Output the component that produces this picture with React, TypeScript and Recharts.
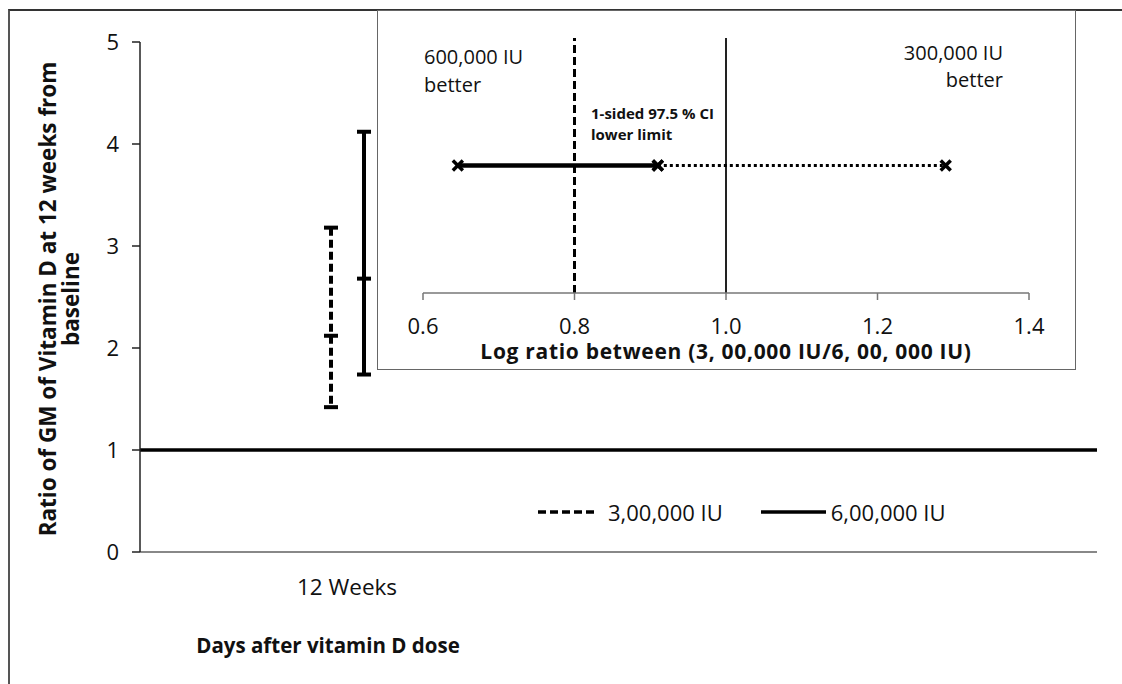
import React from "react"
import {
  ComposedChart,
  Bar,
  XAxis,
  YAxis,
  ReferenceLine,
  Legend,
  Label,
  ScatterChart,
  Scatter,
} from "recharts"

const FONT = "'Open Sans', Lato, sans-serif"
const INK = "#111"

// main chart: ratio of GM of vitamin D at 12 weeks from baseline
const PERIODS = ["12 Weeks"]
const MEAN_300K = [2.12]
const LOW_300K = [1.42]
const HIGH_300K = [3.18]
const MEAN_600K = [2.68]
const LOW_600K = [1.74]
const HIGH_600K = [4.12]
const Y_TICKS = [0, 1, 2, 3, 4, 5]
const BASELINE_RATIO = 1

// inset: log ratio (300,000 IU / 600,000 IU) with 1-sided 97.5% CI
const INSET_TICKS = [0.6, 0.8, 1.0, 1.2, 1.4]
const CI_LOW = 0.646
const CI_MID = 0.91
const CI_HIGH = 1.29
const CI_LEVEL = 0.5
const MARGIN_LINE = 0.8
const NO_DIFF_LINE = 1.0

const mainData = PERIODS.map((period, i) => ({
  period,
  m300: MEAN_300K[i],
  lo300: LOW_300K[i],
  hi300: HIGH_300K[i],
  m600: MEAN_600K[i],
  lo600: LOW_600K[i],
  hi600: HIGH_600K[i],
}))

const solidCi = [
  { x: CI_LOW, y: CI_LEVEL },
  { x: CI_MID, y: CI_LEVEL },
]
const dottedCi = [
  { x: CI_MID, y: CI_LEVEL },
  { x: CI_HIGH, y: CI_LEVEL },
]

// bar shape draws a whisker (low-mean-high) using the bar's own scale
const whisker = (meanKey: string, lowKey: string, highKey: string, dashed: boolean) =>
  (props: any) => {
    const { x, y, width, height, payload } = props
    const mean = payload[meanKey]
    const base = y + height
    const k = height / mean
    const yLo = base - payload[lowKey] * k
    const yHi = base - payload[highKey] * k
    const cx = x + width / 2
    return (
      <g>
        <line x1={cx} x2={cx} y1={yHi} y2={yLo} stroke="#000" strokeWidth={4}
          strokeDasharray={dashed ? "8 4" : undefined} />
        <line x1={cx - 7} x2={cx + 7} y1={yHi} y2={yHi} stroke="#000" strokeWidth={4} />
        <line x1={cx - 7} x2={cx + 7} y1={yLo} y2={yLo} stroke="#000" strokeWidth={4} />
        <line x1={cx - 7} x2={cx + 7} y1={y} y2={y} stroke="#000" strokeWidth={4} />
      </g>
    )
  }

const XMark = (props: any) => {
  const { cx, cy } = props
  const r = 5
  return (
    <g stroke="#000" strokeWidth={3.5}>
      <line x1={cx - r} y1={cy - r} x2={cx + r} y2={cy + r} />
      <line x1={cx - r} y1={cy + r} x2={cx + r} y2={cy - r} />
    </g>
  )
}

const renderLegend = (props: any) => (
  <div style={{ display: "flex", alignItems: "center", fontFamily: FONT, fontSize: 22, color: INK }}>
    {(props.payload || []).map((e: any) => {
      const dashed = e.dataKey === "m300"
      return (
        <div key={e.value} style={{ display: "flex", alignItems: "center", marginRight: 38 }}>
          <svg width={dashed ? 56 : 65} height={6}>
            <line x1={0} x2={dashed ? 56 : 65} y1={3} y2={3} stroke="#000" strokeWidth={3.5}
              strokeDasharray={dashed ? "8 4" : undefined} />
          </svg>
          <span style={{ marginLeft: dashed ? 14 : 5 }}>{e.value}</span>
        </div>
      )
    })}
  </div>
)

const YTitle = (props: any) => {
  const { viewBox } = props
  const cy = viewBox.y + viewBox.height / 2 + 2
  return (
    <g fontFamily={FONT} fontWeight={700} fontSize={22.5} fill={INK}>
      <text x={47} y={cy} transform={`rotate(-90, 47, ${cy})`} textAnchor="middle" dominantBaseline="central">
        Ratio of GM of Vitamin D at 12 weeks from
      </text>
      <text x={70} y={cy} transform={`rotate(-90, 70, ${cy})`} textAnchor="middle" dominantBaseline="central">
        baseline
      </text>
    </g>
  )
}

const XTitle = (props: any) => {
  const { viewBox } = props
  return (
    <text x={viewBox.x + 188} y={viewBox.y + 93} textAnchor="middle" dominantBaseline="central"
      fontFamily={FONT} fontWeight={700} fontSize={20.5} fill={INK}>
      Days after vitamin D dose
    </text>
  )
}

function Inset() {
  return (
    <div style={{
      position: "absolute", left: 377, top: 10, width: 699, height: 360,
      boxSizing: "border-box", border: "1.5px solid #666", background: "#fff",
    }}>
      <ScatterChart width={696} height={357} margin={{ top: 27, right: 45, bottom: 5, left: 45 }}>
        <XAxis type="number" dataKey="x" domain={[0.6, 1.4]} ticks={INSET_TICKS}
          tickFormatter={(v: number) => v.toFixed(1)} height={70}
          axisLine={{ stroke: "#777", strokeWidth: 1.5 }} tickLine={{ stroke: "#777", strokeWidth: 1.5 }}
          tickSize={7} tickMargin={18}
          tick={{ fontFamily: FONT, fontSize: 22, fill: INK }}>
          <Label value="Log ratio between (3, 00,000 IU/6, 00, 000 IU)" position="insideTop" offset={51}
            style={{ fontFamily: FONT, fontWeight: 700, fontSize: 21, letterSpacing: 0.7, fill: INK }} />
        </XAxis>
        <YAxis type="number" dataKey="y" domain={[0, 1]} hide />
        <ReferenceLine x={MARGIN_LINE} stroke="#000" strokeWidth={3} strokeDasharray="8 4" />
        <ReferenceLine x={NO_DIFF_LINE} stroke="#222" strokeWidth={2} />
        <Scatter data={dottedCi} isAnimationActive={false} shape={XMark}
          line={{ stroke: "#000", strokeWidth: 3, strokeDasharray: "3 3" }} />
        <Scatter data={solidCi} isAnimationActive={false} shape={XMark}
          line={{ stroke: "#000", strokeWidth: 4.5 }} />
      </ScatterChart>
      <div style={{ position: "absolute", left: 46, top: 32, fontFamily: FONT, fontSize: 20, lineHeight: "28px", color: INK }}>
        600,000 IU<br />better
      </div>
      <div style={{ position: "absolute", right: 72, top: 28, textAlign: "right", fontFamily: FONT, fontSize: 20, lineHeight: "27px", color: INK }}>
        300,000 IU<br />better
      </div>
      <div style={{ position: "absolute", left: 213, top: 92, fontFamily: FONT, fontWeight: 700, fontSize: 15, lineHeight: "21px", color: INK }}>
        1-sided 97.5 % CI<br />lower limit
      </div>
    </div>
  )
}

export default function App() {
  return (
    <div style={{ position: "relative", width: 1122, height: 684, background: "#fff", overflow: "hidden" }}>
      <style>{"body{margin:0}"}</style>
      <div style={{
        position: "absolute", left: 8, top: 9, width: 1114, height: 675,
        borderLeft: "2px solid #555", borderTop: "2px solid #333",
      }} />
      <ComposedChart width={1122} height={684} data={mainData} barSize={20} barGap={13}
        margin={{ top: 42, right: 25, bottom: 92, left: 0 }}>
        <XAxis dataKey="period" height={40} padding={{ left: 0, right: 543 }}
          axisLine={{ stroke: "#888", strokeWidth: 2 }} tickLine={false} tickMargin={21}
          tick={{ fontFamily: FONT, fontSize: 22.5, fill: INK }}>
          <Label content={XTitle} />
        </XAxis>
        <YAxis domain={[0, 5]} ticks={Y_TICKS} width={140}
          axisLine={{ stroke: "#222", strokeWidth: 1.5 }} tickLine={{ stroke: "#222", strokeWidth: 1.5 }}
          tickSize={8} tickMargin={13}
          tick={{ fontFamily: FONT, fontSize: 22, fill: INK }}>
          <Label content={YTitle} />
        </YAxis>
        <ReferenceLine y={BASELINE_RATIO} stroke="#000" strokeWidth={3.5} />
        <Bar dataKey="m300" name="3,00,000 IU" isAnimationActive={false}
          shape={whisker("m300", "lo300", "hi300", true)} activeBar={false} />
        <Bar dataKey="m600" name="6,00,000 IU" isAnimationActive={false}
          shape={whisker("m600", "lo600", "hi600", false)} activeBar={false} />
        <Legend content={renderLegend} layout="horizontal" verticalAlign="middle" align="center"
          wrapperStyle={{ left: 538, top: 497, width: "auto" }} />
      </ComposedChart>
      <Inset />
    </div>
  )
}
